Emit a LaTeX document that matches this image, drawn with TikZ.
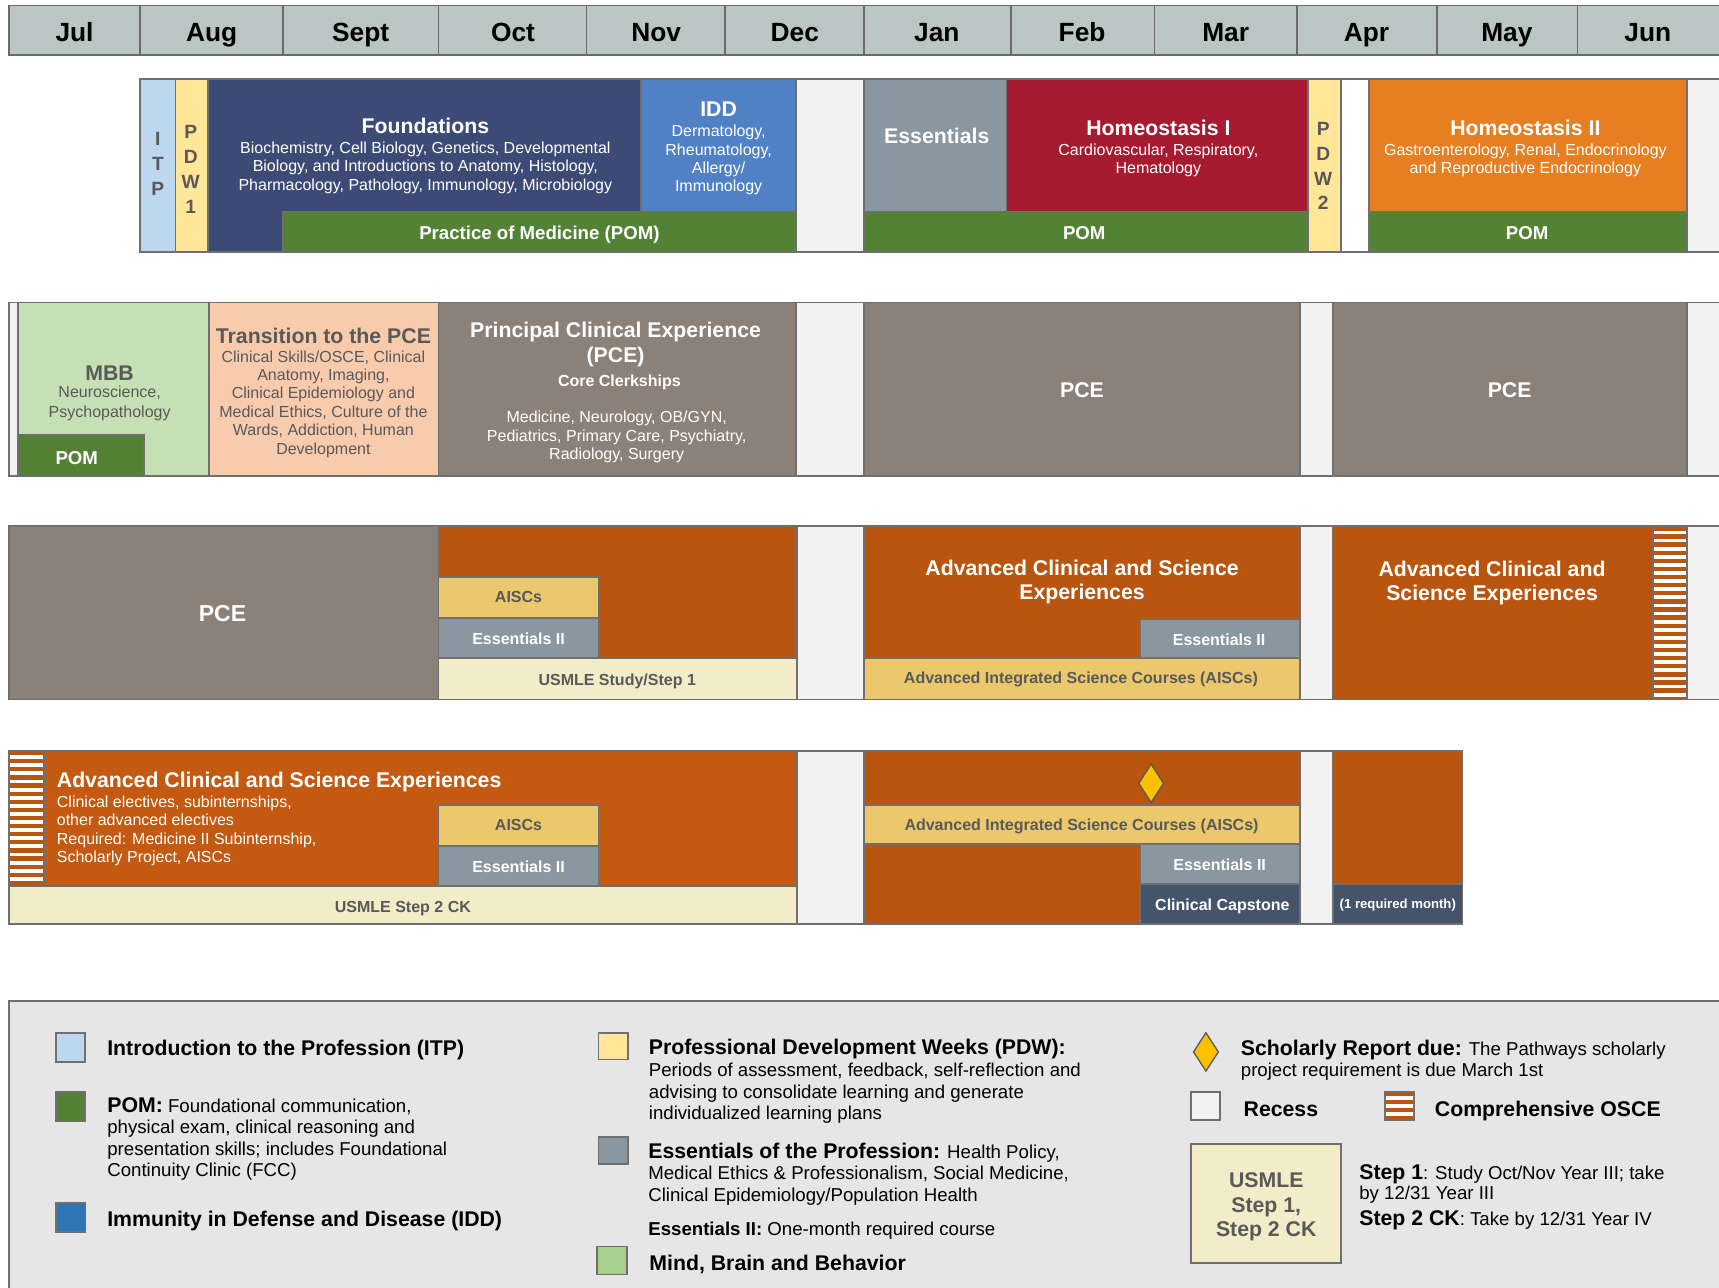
\documentclass[tikz,border=0pt]{standalone}
\usepackage{fontspec}
\setmainfont{Liberation Sans}
\definecolor{hdr}{HTML}{BAC6C4}
\definecolor{hdrline}{HTML}{6A6A6A}
\definecolor{bordc}{HTML}{6F6F6F}
\definecolor{itp}{HTML}{BDD7EE}
\definecolor{pdw}{HTML}{FFE699}
\definecolor{found}{HTML}{3C4A76}
\definecolor{idd}{HTML}{4F81C4}
\definecolor{pom}{HTML}{548235}
\definecolor{recess}{HTML}{F2F2F2}
\definecolor{ess}{HTML}{8A97A0}
\definecolor{homi}{HTML}{A61B30}
\definecolor{homii}{HTML}{E67E22}
\definecolor{mbb}{HTML}{C5E0B4}
\definecolor{trans}{HTML}{F8CBAD}
\definecolor{pce}{HTML}{8B8178}
\definecolor{acse}{HTML}{B9550F}
\definecolor{acsef}{HTML}{C45A11}
\definecolor{aisc}{HTML}{EBC86C}
\definecolor{usmle}{HTML}{F3ECC8}
\definecolor{slate}{HTML}{44546A}
\definecolor{legbg}{HTML}{E6E6E6}
\definecolor{iddleg}{HTML}{2E75B6}
\definecolor{mbbleg}{HTML}{A9D18E}
\definecolor{graytx}{HTML}{595959}
\definecolor{dia}{HTML}{FFC000}
\newcommand\fnMonth{\fontsize{12pt}{14pt}\selectfont\bfseries}
\newcommand\fnTitle{\fontsize{9.7pt}{11pt}\selectfont\bfseries}
\newcommand\fnBig{\fontsize{10.5pt}{12pt}\selectfont\bfseries}
\newcommand\fnLab{\fontsize{7.3pt}{8.5pt}\selectfont\bfseries}
\newcommand\fnBody{\fontsize{7.3pt}{8.5pt}\selectfont}
\newcommand\fnLeg{\fontsize{8.5pt}{10pt}\selectfont}
\newcommand\fnLegB{\fontsize{8.5pt}{10pt}\selectfont\bfseries}
\newcommand\fnSmall{\fontsize{6pt}{7pt}\selectfont\bfseries}
\newcommand\fnLet{\fontsize{8.75pt}{10pt}\selectfont\bfseries}
\newcommand\bxx[5]{\draw[bx, fill=#5] (#1,#2) rectangle (#3,#4);}
\newcommand\osce[4]{%
  \fill[white] (#1,#2) rectangle (#3,#4);
  \begin{scope}
  \clip (#1,#2) rectangle (#3,#4);
  \foreach \k in {0,...,22} {\fill[acse] (#1,{#2+\k*7.4}) rectangle (#3,{#2+\k*7.4+3.9});}
  \end{scope}
  \draw[bx] (#1,#2) rectangle (#3,#4);}
\tikzset{
  bx/.style={draw=bordc, line width=0.8pt},
  tx/.style={inner sep=0pt, anchor=base},
  tw/.style={inner sep=0pt, anchor=base west},
}
\begin{document}
\begin{tikzpicture}[x=0.5pt,y=-0.5pt]
\useasboundingbox (0,0) rectangle (1568,1174);
\clip (0,0) rectangle (1568,1174);
\fill[white] (0,0) rectangle (1568,1174);
% ---------------- header
\draw[bx, fill=hdr, draw=hdrline] (8,5) rectangle (1600,50);
\foreach \x in {128,258,400,535,661,788,922,1053,1183,1311,1439} \draw[bx, draw=hdrline] (\x,5) -- (\x,50);
\node[tx, font=\fnMonth] (mJul) at (68,37.5) {Jul};
\node[tx, font=\fnMonth] (mAug) at (193,37.5) {Aug};
\node[tx, font=\fnMonth] (mSep) at (329,37.5) {Sept};
\node[tx, font=\fnMonth] (mOct) at (468,37.5) {Oct};
\node[tx, font=\fnMonth] (mNov) at (598.5,37.5) {Nov};
\node[tx, font=\fnMonth] (mDec) at (725,37.5) {Dec};
\node[tx, font=\fnMonth] (mJan) at (854.5,37.5) {Jan};
\node[tx, font=\fnMonth] (mFeb) at (987,37.5) {Feb};
\node[tx, font=\fnMonth] (mMar) at (1118,37.5) {Mar};
\node[tx, font=\fnMonth] (mApr) at (1246.5,37.5) {Apr};
\node[tx, font=\fnMonth] (mMay) at (1374.5,37.5) {May};
\node[tx, font=\fnMonth] (mJun) at (1503,37.5) {Jun};
% ---------------- row 1
\bxx{128}{72}{160}{230}{itp}
\bxx{160}{72}{190}{230}{pdw}
\bxx{190}{72}{585}{230}{found}
\bxx{585}{72}{726}{193}{idd}
\bxx{258}{193}{726}{230}{pom}
\bxx{726}{72}{788}{230}{recess}
\bxx{788}{72}{918}{193}{ess}
\bxx{918}{72}{1193}{193}{homi}
\bxx{788}{193}{1193}{230}{pom}
\bxx{1193}{72}{1223}{230}{pdw}
\bxx{1223}{72}{1249}{230}{white}
\bxx{1249}{72}{1539}{193}{homii}
\bxx{1249}{193}{1539}{230}{pom}
\bxx{1539}{72}{1600}{230}{recess}
\begin{scope}[every node/.style={tx, font=\fnLet, text=graytx}]
\node (itpI) at (144,132.3) {I};
\node (itpT) at (144,155.3) {T};
\node (itpP) at (144,178.3) {P};
\node (pdaP) at (174,126.3) {P};
\node (pdaD) at (174,149.3) {D};
\node (pdaW) at (174,172.3) {W};
\node (pda1) at (174,194.8) {1};
\node (pdbP) at (1207,123.3) {P};
\node (pdbD) at (1207,146.3) {D};
\node (pdbW) at (1207,168.9) {W};
\node (pdb2) at (1207,191.1) {2};
\end{scope}
\begin{scope}[every node/.style={tx, text=white}]
\node[font=\fnTitle] (fndT) at (388,121.9) {Foundations};
\node[font=\fnBody] (fnd1) at (388,139.9) {Biochemistry, Cell Biology, Genetics, Developmental};
\node[font=\fnBody] (fnd2) at (388,156.4) {Biology, and Introductions to Anatomy, Histology,};
\node[font=\fnBody] (fnd3) at (388,173.9) {Pharmacology, Pathology, Immunology, Microbiology};
\node[font=\fnTitle] (iddT) at (655.5,106.4) {IDD};
\node[font=\fnBody] (idd1) at (655.5,124.7) {Dermatology,};
\node[font=\fnBody] (idd2) at (655.5,142) {Rheumatology,};
\node[font=\fnBody] (idd3) at (655.5,158.7) {Allergy/};
\node[font=\fnBody] (idd4) at (655.5,174.5) {Immunology};
\node[font=\fnLegB] (pomA) at (492,218.9) {Practice of Medicine (POM)};
\node[font=\fnTitle] (essT) at (854.5,131) {Essentials};
\node[font=\fnTitle] (hiT) at (1056.6,123.4) {Homeostasis I};
\node[font=\fnBody] (hi1) at (1056.6,142) {Cardiovascular, Respiratory,};
\node[font=\fnBody] (hi2) at (1056.6,158.2) {Hematology};
\node[font=\fnLegB] (pomB) at (989,218.9) {POM};
\node[font=\fnTitle] (hiiT) at (1391.4,123.4) {Homeostasis II};
\node[font=\fnBody] (hii1) at (1391.4,142) {Gastroenterology, Renal, Endocrinology};
\node[font=\fnBody] (hii2) at (1391.4,158.2) {and Reproductive Endocrinology};
\node[font=\fnLegB] (pomC) at (1393,218.9) {POM};
\end{scope}
% ---------------- row 2
\bxx{8}{276}{16.5}{434}{recess}
\bxx{16.5}{276}{190.5}{434}{mbb}
\bxx{16.5}{397}{131.5}{434}{pom}
\bxx{190.5}{276}{400}{434}{trans}
\bxx{400}{276}{726}{434}{pce}
\bxx{726}{276}{788}{434}{recess}
\bxx{788}{276}{1186}{434}{pce}
\bxx{1186}{276}{1216}{434}{recess}
\bxx{1216}{276}{1539}{434}{pce}
\bxx{1539}{276}{1600}{434}{recess}
\begin{scope}[every node/.style={tx, text=graytx}]
\node[font=\fnTitle] (mbbT) at (100,347.5) {MBB};
\node[font=\fnBody] (mbb1) at (100,363) {Neuroscience,};
\node[font=\fnBody] (mbb2) at (100,381.2) {Psychopathology};
\node[font=\fnTitle] (trT) at (295,313) {Transition to the PCE};
\node[font=\fnBody] (tr1) at (295,330.5) {Clinical Skills/OSCE, Clinical};
\node[font=\fnBody] (tr2) at (295,347.2) {Anatomy, Imaging,};
\node[font=\fnBody] (tr3) at (295,363.2) {Clinical Epidemiology and};
\node[font=\fnBody] (tr4) at (295,380.7) {Medical Ethics, Culture of the};
\node[font=\fnBody] (tr5) at (295,397.2) {Wards, Addiction, Human};
\node[font=\fnBody] (tr6) at (295,414.2) {Development};
\end{scope}
\begin{scope}[every node/.style={tx, text=white}]
\node[font=\fnLegB] (pomD) at (70,423.5) {POM};
\node[font=\fnTitle] (pceT1) at (561.5,307.4) {Principal Clinical Experience};
\node[font=\fnTitle] (pceT2) at (561.5,330.8) {(PCE)};
\node[font=\fnLab] (pceC) at (565,352.4) {Core Clerkships};
\node[font=\fnBody] (pce1) at (562.5,385.2) {Medicine, Neurology, OB/GYN,};
\node[font=\fnBody] (pce2) at (562.5,402.9) {Pediatrics, Primary Care, Psychiatry,};
\node[font=\fnBody] (pce3) at (562.5,419.2) {Radiology, Surgery};
\node[font=\fnTitle] (pceB) at (987,363) {PCE};
\node[font=\fnTitle] (pceC2) at (1377,363) {PCE};
\end{scope}
% ---------------- row 3
\bxx{8}{480}{400}{638}{pce}
\bxx{400}{480}{727}{600}{acse}
\bxx{400}{526}{546}{564}{aisc}
\bxx{400}{564}{546}{600}{ess}
\bxx{400}{600}{727}{638}{usmle}
\bxx{727}{480}{788}{638}{recess}
\bxx{788}{480}{1186}{600}{acse}
\bxx{1040}{565}{1186}{600}{ess}
\bxx{788}{600}{1186}{638}{aisc}
\bxx{1186}{480}{1216}{638}{recess}
\bxx{1216}{480}{1508}{638}{acse}
\osce{1508}{480}{1539}{638}
\bxx{1539}{480}{1600}{638}{recess}
\node[tx, font=\fnBig, text=white] (pceD) at (203,566.5) {PCE};
\node[tx, font=\fnLab, text=graytx] (aiscA) at (473,549.5) {AISCs};
\node[tx, font=\fnLab, text=white] (essA) at (473,587.5) {Essentials II};
\node[tx, font=\fnLab, text=graytx] (usA) at (563,625.5) {USMLE Study/Step 1};
\node[tx, font=\fnTitle, text=white] (acA1) at (987,524.5) {Advanced Clinical and Science};
\node[tx, font=\fnTitle, text=white] (acA2) at (987,546.7) {Experiences};
\node[tx, font=\fnLab, text=white] (essB) at (1112,589) {Essentials II};
\node[tx, font=\fnLab, text=graytx] (aiscB) at (986,623.4) {Advanced Integrated Science Courses (AISCs)};
\node[tx, font=\fnTitle, text=white] (acB1) at (1361,525.4) {Advanced Clinical and};
\node[tx, font=\fnTitle, text=white] (acB2) at (1361,547.3) {Science Experiences};
% ---------------- row 4
\osce{8}{685}{40}{808}
\bxx{40}{685}{727}{808}{acsef}
\bxx{400}{734}{546}{772}{aisc}
\bxx{400}{772}{546}{808}{ess}
\bxx{8}{808}{727}{843}{usmle}
\bxx{727}{685}{788}{843}{recess}
\bxx{788}{685}{1186}{843}{acse}
\bxx{788}{734}{1186}{770}{aisc}
\bxx{1040}{770}{1186}{806}{ess}
\bxx{1040}{806}{1186}{843}{slate}
\bxx{1186}{685}{1216}{843}{recess}
\bxx{1216}{685}{1334}{806}{acse}
\bxx{1216}{806}{1334}{843}{slate}
\draw[fill=dia, draw=graytx, line width=0.6pt] (1050,697) -- (1061.3,714.5) -- (1050,732) -- (1038.7,714.5) -- cycle;
\node[tw, font=\fnTitle, text=white] (acC) at (51.5,718.5) {Advanced Clinical and Science Experiences};
\node[tw, font=\fnBody, text=white] (acC1) at (51.5,736.2) {Clinical electives, subinternships,};
\node[tw, font=\fnBody, text=white] (acC2) at (51.5,752.9) {other advanced electives};
\node[tw, font=\fnBody, text=white] (acC3) at (51.5,769.9) {Required: Medicine II Subinternship,};
\node[tw, font=\fnBody, text=white] (acC4) at (51.5,786.6) {Scholarly Project, AISCs};
\node[tx, font=\fnLab, text=graytx] (aiscC) at (473,757.7) {AISCs};
\node[tx, font=\fnLab, text=white] (essC) at (473,795.7) {Essentials II};
\node[tx, font=\fnLab, text=graytx] (usB) at (367.5,832.2) {USMLE Step 2 CK};
\node[tx, font=\fnLab, text=graytx] (aiscD) at (986.5,757.7) {Advanced Integrated Science Courses (AISCs)};
\node[tx, font=\fnLab, text=white] (essD) at (1112.5,794.2) {Essentials II};
\node[tx, font=\fnLab, text=white] (capst) at (1115,830.7) {Clinical Capstone};
\node[tx, font=\fnSmall, text=white] (reqm) at (1275,828.3) {(1 required month)};
% ---------------- legend
\draw[bx, fill=legbg] (8,913) rectangle (1600,1200);
\bxx{51}{942}{77.5}{969}{itp}
\bxx{51}{996}{77.5}{1023}{pom}
\bxx{51}{1097.5}{78}{1123.5}{iddleg}
\bxx{546}{942}{573}{966.5}{pdw}
\bxx{546}{1037}{573}{1062}{ess}
\bxx{544.5}{1137}{572}{1162.5}{mbbleg}
\bxx{1086.5}{996}{1113}{1021.5}{recess}
\osce{1263}{996}{1290}{1021.5}
\bxx{1086.5}{1043.5}{1223.5}{1152}{usmle}
\draw[fill=dia, draw=graytx, line width=0.6pt] (1100,942) -- (1111.3,959.5) -- (1100,977) -- (1088.7,959.5) -- cycle;
\node[tw, font=\fnTitle] (lgITP) at (97.5,963) {Introduction to the Profession (ITP)};
\node[tw, font=\fnLeg] (lgPOM1) at (97.5,1014.8) {{\fnTitle POM:} Foundational communication,};
\node[tw, font=\fnLeg] (lgPOM2) at (97.5,1033.8) {physical exam, clinical reasoning and};
\node[tw, font=\fnLeg] (lgPOM3) at (97.5,1054) {presentation skills; includes Foundational};
\node[tw, font=\fnLeg] (lgPOM4) at (97.5,1073) {Continuity Clinic (FCC)};
\node[tw, font=\fnTitle] (lgIDD) at (97.5,1119) {Immunity in Defense and Disease (IDD)};
\node[tw, font=\fnTitle] (lgPDW) at (591.5,961.8) {Professional Development Weeks (PDW):};
\node[tw, font=\fnLeg] (lgPDW1) at (591.5,982) {Periods of assessment, feedback, self-reflection and};
\node[tw, font=\fnLeg] (lgPDW2) at (591.5,1002) {advising to consolidate learning and generate};
\node[tw, font=\fnLeg] (lgPDW3) at (591.5,1021.2) {individualized learning plans};
\node[tw, font=\fnLeg] (lgESS1) at (591,1057) {{\fnTitle Essentials of the Profession:} Health Policy,};
\node[tw, font=\fnLeg] (lgESS2) at (591,1076) {Medical Ethics \& Professionalism, Social Medicine,};
\node[tw, font=\fnLeg] (lgESS3) at (591,1095.5) {Clinical Epidemiology/Population Health};
\node[tw, font=\fnLeg] (lgESS4) at (591,1127) {{\bfseries Essentials II:} One-month required course};
\node[tw, font=\fnTitle] (lgMBB) at (592,1158.8) {Mind, Brain and Behavior};
\node[tw, font=\fnLeg] (lgSR1) at (1131.5,962.4) {{\fnTitle Scholarly Report due:} The Pathways scholarly};
\node[tw, font=\fnLeg] (lgSR2) at (1131.5,982) {project requirement is due March 1st};
\node[tw, font=\fnTitle] (lgRec) at (1134,1018) {Recess};
\node[tw, font=\fnTitle] (lgOSCE) at (1308.5,1018.6) {Comprehensive OSCE};
\node[tx, font=\fnTitle, text=graytx] (lgUS1) at (1155,1082.8) {USMLE};
\node[tx, font=\fnTitle, text=graytx] (lgUS2) at (1155,1105.6) {Step 1,};
\node[tx, font=\fnTitle, text=graytx] (lgUS3) at (1155,1128) {Step 2 CK};
\node[tw, font=\fnLeg] (lgSt1) at (1239.5,1075.8) {{\fnTitle Step 1}: Study Oct/Nov Year III; take};
\node[tw, font=\fnLeg] (lgSt2) at (1239.5,1094.5) {by 12/31 Year III};
\node[tw, font=\fnLeg] (lgSt3) at (1239.5,1117.7) {{\fnTitle Step 2 CK}: Take by 12/31 Year IV};
\end{tikzpicture}
\end{document}
